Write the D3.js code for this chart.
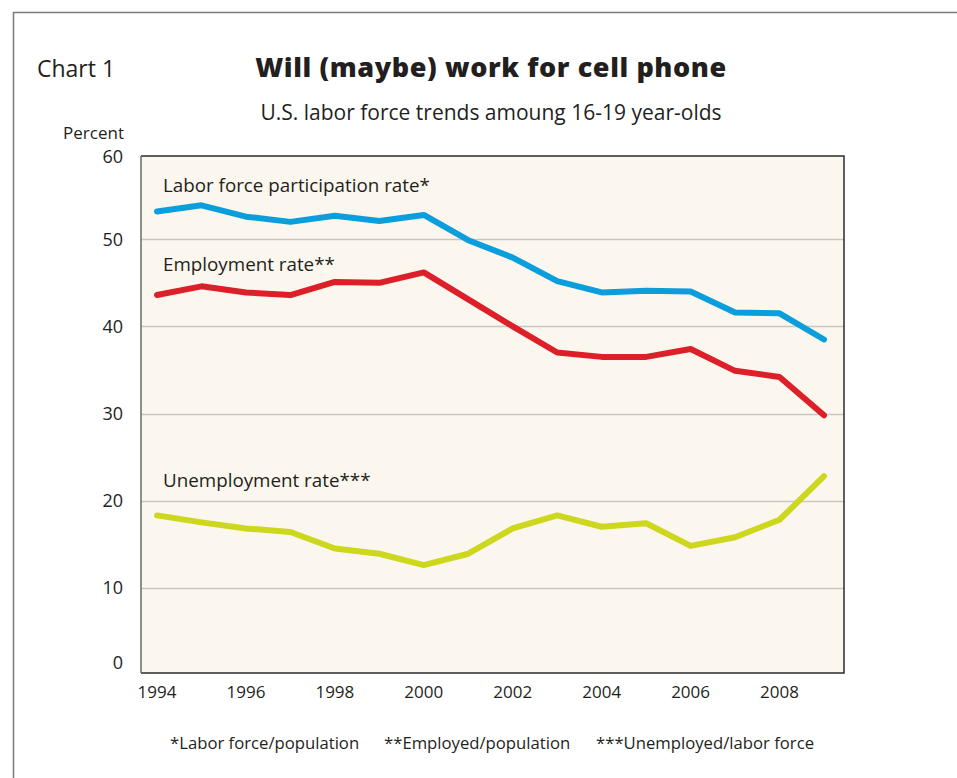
<!DOCTYPE html>
<html>
<head>
<meta charset="utf-8">
<script src="https://cdn.jsdelivr.net/npm/d3@7"></script>
<style>
  html, body { margin: 0; padding: 0; background: #ffffff; }
  svg { display: block; }
  text { font-family: "Open Sans", Lato, sans-serif; fill: #231f20; }
</style>
</head>
<body>
<svg id="chart" width="957" height="778"></svg>
<script>
// Teen (16-19) labor force statistics, percent
const years = [1994, 1995, 1996, 1997, 1998, 1999, 2000, 2001, 2002, 2003, 2004, 2005, 2006, 2007, 2008, 2009];
const participation = [53.2, 53.9, 52.6, 52.0, 52.7, 52.1, 52.8, 49.9, 47.9, 45.2, 43.9, 44.1, 44.0, 41.6, 41.5, 38.5];
const employment = [43.6, 44.6, 43.9, 43.6, 45.1, 45.0, 46.2, 43.1, 40.0, 37.0, 36.5, 36.5, 37.4, 34.9, 34.2, 29.8];
const unemployment = [18.3, 17.5, 16.8, 16.4, 14.5, 13.9, 12.6, 13.9, 16.8, 18.3, 17.0, 17.4, 14.8, 15.8, 17.8, 22.8];
const yTicks = [0, 10, 20, 30, 40, 50, 60];
const xTicks = [1994, 1996, 1998, 2000, 2002, 2004, 2006, 2008];
const seriesNames = ["Labor force participation rate*", "Employment rate**", "Unemployment rate***"];
const footnotes = ["*Labor force/population", "**Employed/population", "***Unemployed/labor force"];

const svg = d3.select("#chart");

// outer frame (top and left edges)
svg.append("path")
  .attr("d", "M13.5,778 V12.5 H957")
  .attr("fill", "none").attr("stroke", "#7a7a7a").attr("stroke-width", 1.5);

svg.append("text").attr("x", 37).attr("y", 77)
  .attr("font-size", 23).text("Chart 1");
svg.append("text").attr("x", 491).attr("y", 77).attr("text-anchor", "middle")
  .attr("font-size", 27).attr("font-weight", 800).attr("letter-spacing", 0.6)
  .text("Will (maybe) work for cell phone");
svg.append("text").attr("x", 491).attr("y", 120).attr("text-anchor", "middle")
  .attr("font-size", 21).text("U.S. labor force trends amoung 16-19 year-olds");
svg.append("text").attr("x", 124).attr("y", 139).attr("text-anchor", "end")
  .attr("font-size", 17).text("Percent");

// plot area
const plot = { left: 141, right: 844, top: 156, bottom: 673 };
const x = d3.scaleLinear().domain([1994, 2009]).range([157, 824]);
const y = d3.scaleLinear().domain([0, 60]).range([674.8, 152.2]);

svg.append("rect")
  .attr("x", plot.left).attr("y", plot.top)
  .attr("width", plot.right - plot.left).attr("height", plot.bottom - plot.top)
  .attr("fill", "#fbf7ee");

// horizontal gridlines
svg.append("g").selectAll("line")
  .data(yTicks.filter(v => v > 0 && v < 60))
  .join("line")
  .attr("x1", plot.left).attr("x2", plot.right)
  .attr("y1", d => Math.round(y(d)) + 0.5).attr("y2", d => Math.round(y(d)) + 0.5)
  .attr("stroke", "#c9c6c2").attr("stroke-width", 1.5);

// plot border
svg.append("path")
  .attr("d", `M${plot.left},${plot.top} H${plot.right} V${plot.bottom} H${plot.left}`)
  .attr("fill", "none").attr("stroke", "#2b2b2b").attr("stroke-width", 1.5);
svg.append("line")
  .attr("x1", plot.left).attr("x2", plot.left).attr("y1", plot.top).attr("y2", plot.bottom)
  .attr("stroke", "#6a6a6a").attr("stroke-width", 1.5);

// y tick labels (end labels kept inside the plot's vertical span)
svg.append("g").selectAll("text")
  .data(yTicks)
  .join("text")
  .attr("x", 123)
  .attr("y", d => Math.min(Math.max(y(d), 157), 663))
  .attr("dy", "0.35em")
  .attr("text-anchor", "end")
  .attr("font-size", 18)
  .text(d => d);

// x tick labels
svg.append("g").selectAll("text")
  .data(xTicks)
  .join("text")
  .attr("x", d => x(d))
  .attr("y", 692)
  .attr("dy", "0.35em")
  .attr("text-anchor", "middle")
  .attr("font-size", 17)
  .text(d => d);

// series lines
const series = [
  { name: seriesNames[0], values: participation, color: "#0a9fdc", ly: 192 },
  { name: seriesNames[1], values: employment, color: "#dd1f29", ly: 271 },
  { name: seriesNames[2], values: unemployment, color: "#cdd71e", ly: 487 }
];
const line = d3.line().x((d, i) => x(years[i])).y(d => y(d));

svg.append("g").selectAll("path")
  .data(series)
  .join("path")
  .attr("d", d => line(d.values))
  .attr("fill", "none")
  .attr("stroke", d => d.color)
  .attr("stroke-width", 6)
  .attr("stroke-linejoin", "round")
  .attr("stroke-linecap", "round");

svg.append("g").selectAll("text")
  .data(series)
  .join("text")
  .attr("x", 163)
  .attr("y", d => d.ly)
  .attr("font-size", 18.8)
  .text(d => d.name);

// footnotes
const footX = [170, 384, 596];
svg.append("g").selectAll("text")
  .data(footnotes)
  .join("text")
  .attr("x", (d, i) => footX[i])
  .attr("y", 749)
  .attr("font-size", 16.7)
  .text(d => d);
</script>
</body>
</html>
